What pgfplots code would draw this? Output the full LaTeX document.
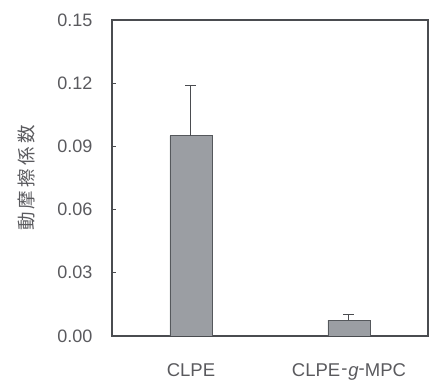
\documentclass[border=0pt]{standalone}
\usepackage{fontspec}
\setmainfont{Liberation Sans}
\newfontfamily\cjk[LetterSpace=18]{Noto Sans CJK JP}
\usepackage{pgfplots}
\pgfplotsset{compat=1.18}
\definecolor{txt}{HTML}{5A5A5E}
\definecolor{axc}{HTML}{4A4C50}
\definecolor{barc}{HTML}{9B9EA3}
\definecolor{bare}{HTML}{55585C}
\begin{document}
\begin{tikzpicture}
\begin{axis}[
  at={(0,0)}, anchor=south west,
  scale only axis, width=316pt, height=316pt,
  xmin=-0.5, xmax=1.5, ymin=0, ymax=0.15,
  ytick={0,0.03,0.06,0.09,0.12,0.15},
  yticklabel style={/pgf/number format/fixed, /pgf/number format/fixed zerofill, /pgf/number format/precision=2, /pgf/number format/assume math mode=true, font=\fontsize{18}{20}\selectfont, text=txt},
  xtick={0,1}, xticklabels={CLPE, {CLPE\kern1pt\raisebox{0.2ex}{-}\kern1pt\textit{g}\raisebox{0.2ex}{-}MPC}},
  xticklabel style={font=\fontsize{18.5}{20}\selectfont, text=txt, yshift=-20pt},
  major x tick style={draw=none},
  ytick pos=left, tick align=inside, major tick length=4pt,
  y tick style={axc, line width=1pt},
  axis line style={axc, line width=1.8pt},
  yticklabel style={xshift=-16pt},
  ylabel={\cjk 動摩擦係数},
  ylabel style={font=\fontsize{18.5}{20}\selectfont, text=txt, at={(-85pt,0.5)}, anchor=center, rotate=0},
  ybar, bar width=42pt,
]
\addplot[fill=barc, draw=bare, line width=0.8pt,
  error bars/.cd, y dir=plus, y explicit,
  error mark options={rotate=90, mark size=5.5pt, line width=1pt, axc},
  error bar style={line width=1pt, axc}]
  coordinates {(0,0.095) +- (0,0.024) (1,0.0075) +- (0,0.0025)};
\end{axis}
\pgfresetboundingbox
\useasboundingbox (-112pt,-47pt) rectangle (317pt,336pt);
\end{tikzpicture}
\end{document}
